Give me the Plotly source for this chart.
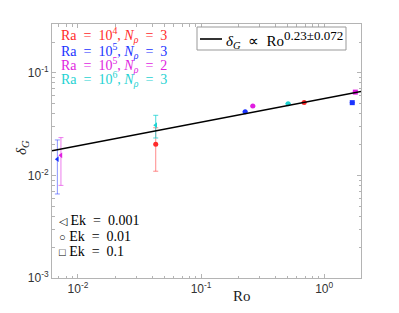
import numpy as np
import plotly.graph_objects as go

# ---- data ----
series_names = ["Ra=1e4 Nρ=3", "Ra=1e5 Nρ=3", "Ra=1e5 Nρ=2", "Ra=1e6 Nρ=3"]
series_colors = ["#ff2a2a", "#1a33ff", "#e01ee0", "#1ed2d2"]
bar_colors = ["rgba(255,60,60,0.6)", "rgba(40,60,255,0.55)", "rgba(225,40,225,0.6)", "rgba(30,210,210,0.8)"]

red_ro = [0.0428, 0.687]
red_dg = [0.0201, 0.0516]
red_err = [0.0091, 0.0]
red_sym = ["circle", "circle"]

blue_ro = [0.0068, 0.228, 1.69]
blue_dg = [0.0144, 0.0417, 0.0513]
blue_err = [0.0078, 0.0, 0.0]
blue_sym = ["triangle-left", "circle", "square"]

mag_ro = [0.00727, 0.263, 1.79]
mag_dg = [0.0157, 0.0475, 0.065]
mag_err = [0.0077, 0.0, 0.0]
mag_sym = ["triangle-left", "circle", "square"]

cyan_ro = [0.0428, 0.509]
cyan_dg = [0.0309, 0.0501]
cyan_err = [0.0077, 0.0]
cyan_sym = ["triangle-left", "circle"]

fit_exp = 0.23
fit_coef = 0.0562
fit_ro = [0.00615, 1.99]
fit_label = ("<i>δ</i><sub><i>G</i></sub>\u2002∝\u2002Ro"
             "<sup><span style='font-size:13px'>0.23±0.072</span></sup>")

x_tickvals = [0.01, 0.1, 1]
x_ticktext = ["10<sup>-2</sup>", "10<sup>-1</sup>", "10<sup>0</sup>"]
y_tickvals = [0.001, 0.01, 0.1]
y_ticktext = ["10<sup>-3</sup>", "10<sup>-2</sup>", "10<sup>-1</sup>"]

ek_labels = ["Ek\u2002=\u20020.001", "Ek\u2002=\u20020.01", "Ek\u2002=\u20020.1"]
ek_symbols = ["◁", "○", "□"]

SERIF = "Liberation Serif"
SANS = "Liberation Sans"

# plot-area geometry (pixels) used to place paper-coordinate decorations
L, R, T, B = 52, 361, 24, 278
W, H = R - L, B - T


def px(x):
    return (x - L) / W


def py(y):
    return 1 - (y - T) / H


fig = go.Figure()

groups = [
    (red_ro, red_dg, red_err, red_sym),
    (blue_ro, blue_dg, blue_err, blue_sym),
    (mag_ro, mag_dg, mag_err, mag_sym),
    (cyan_ro, cyan_dg, cyan_err, cyan_sym),
]
for (ro, dg, err, sym), name, col, bcol in zip(groups, series_names, series_colors, bar_colors):
    fig.add_trace(go.Scatter(
        x=ro, y=dg, mode="markers", name=name, showlegend=False,
        marker=dict(color=col, symbol=sym, size=5, line=dict(width=0)),
        error_y=dict(type="data", array=err, visible=True, color=bcol, thickness=1, width=2.5),
    ))

fit_x = np.array(fit_ro)
fit_y = fit_coef * fit_x ** fit_exp
fig.add_trace(go.Scatter(
    x=fit_x, y=fit_y, mode="lines", line=dict(color="black", width=1.6),
    name="fit", showlegend=False,
))

axis_common = dict(
    type="log", showgrid=False, zeroline=False, automargin=False,
    showline=True, linecolor="#b4b4b4", linewidth=1, mirror="allticks",
    ticks="inside", ticklen=4, tickcolor="#b4b4b4",
    minor=dict(ticks="inside", ticklen=2.5, tickcolor="#b4b4b4", dtick="D1"),
    tickfont=dict(family=SANS, size=12, color="#333333"),
)

fig.update_layout(
    width=399, height=313,
    margin=dict(l=L, r=399 - R, t=T, b=313 - B, autoexpand=False),
    paper_bgcolor="white", plot_bgcolor="white",
    xaxis=dict(range=[np.log10(0.00615), np.log10(1.99)],
               tickvals=x_tickvals, ticktext=x_ticktext, **axis_common),
    yaxis=dict(range=[-3, np.log10(0.3)],
               tickvals=y_tickvals, ticktext=y_ticktext, **axis_common),
    showlegend=False,
)

# legend key for the fit line: box + line sample + label
shapes = [
    dict(type="rect", xref="paper", yref="paper", x0=px(197), x1=px(346), y0=py(50), y1=py(27),
         line=dict(color="#999999", width=1), fillcolor="white", layer="above"),
    dict(type="line", xref="paper", yref="paper", x0=px(200), x1=px(222), y0=py(39), y1=py(39),
         line=dict(color="black", width=1.6), layer="above"),
]
fig.update_layout(shapes=shapes)

ann = []
ann.append(dict(text=fit_label, xref="paper", yref="paper", x=px(224), y=py(39.5),
                xanchor="left", yanchor="middle", showarrow=False,
                font=dict(family=SERIF, size=15, color="black")))
ra_texts = [
    "Ra\u2002=\u200210<sup>4</sup>, <i>N</i><sub><i>ρ</i></sub>\u2002=\u20023",
    "Ra\u2002=\u200210<sup>5</sup>, <i>N</i><sub><i>ρ</i></sub>\u2002=\u20023",
    "Ra\u2002=\u200210<sup>5</sup>, <i>N</i><sub><i>ρ</i></sub>\u2002=\u20022",
    "Ra\u2002=\u200210<sup>6</sup>, <i>N</i><sub><i>ρ</i></sub>\u2002=\u20023",
]
ra_y = [35, 50.5, 64.7, 79]
for t, c, yy in zip(ra_texts, series_colors, ra_y):
    ann.append(dict(text=t, xref="paper", yref="paper", x=px(59), y=py(yy),
                    xanchor="left", yanchor="middle", showarrow=False,
                    font=dict(family=SERIF, size=14, color=c)))
ek_y = [220, 236, 251.5]
for s, t, yy in zip(ek_symbols, ek_labels, ek_y):
    ann.append(dict(text=f"<span style='font-size:11px'>{s}</span> {t}", xref="paper", yref="paper",
                    x=px(57), y=py(yy), xanchor="left", yanchor="middle", showarrow=False,
                    font=dict(family=SERIF, size=14, color="black")))
ann.append(dict(text="Ro", xref="paper", yref="paper", x=px(242), y=py(296),
                xanchor="center", yanchor="middle", showarrow=False,
                font=dict(family=SERIF, size=15, color="#222222")))
ann.append(dict(text="<i>δ</i><sub><i>G</i></sub>", xref="paper", yref="paper",
                x=px(22), y=py(148), textangle=-90,
                xanchor="center", yanchor="middle", showarrow=False,
                font=dict(family=SERIF, size=15, color="#222222")))
fig.update_layout(annotations=ann)

fig.write_html("out.html", config={"displayModeBar": False},
               post_script="document.body.style.margin='0px';document.body.style.padding='0px';")
